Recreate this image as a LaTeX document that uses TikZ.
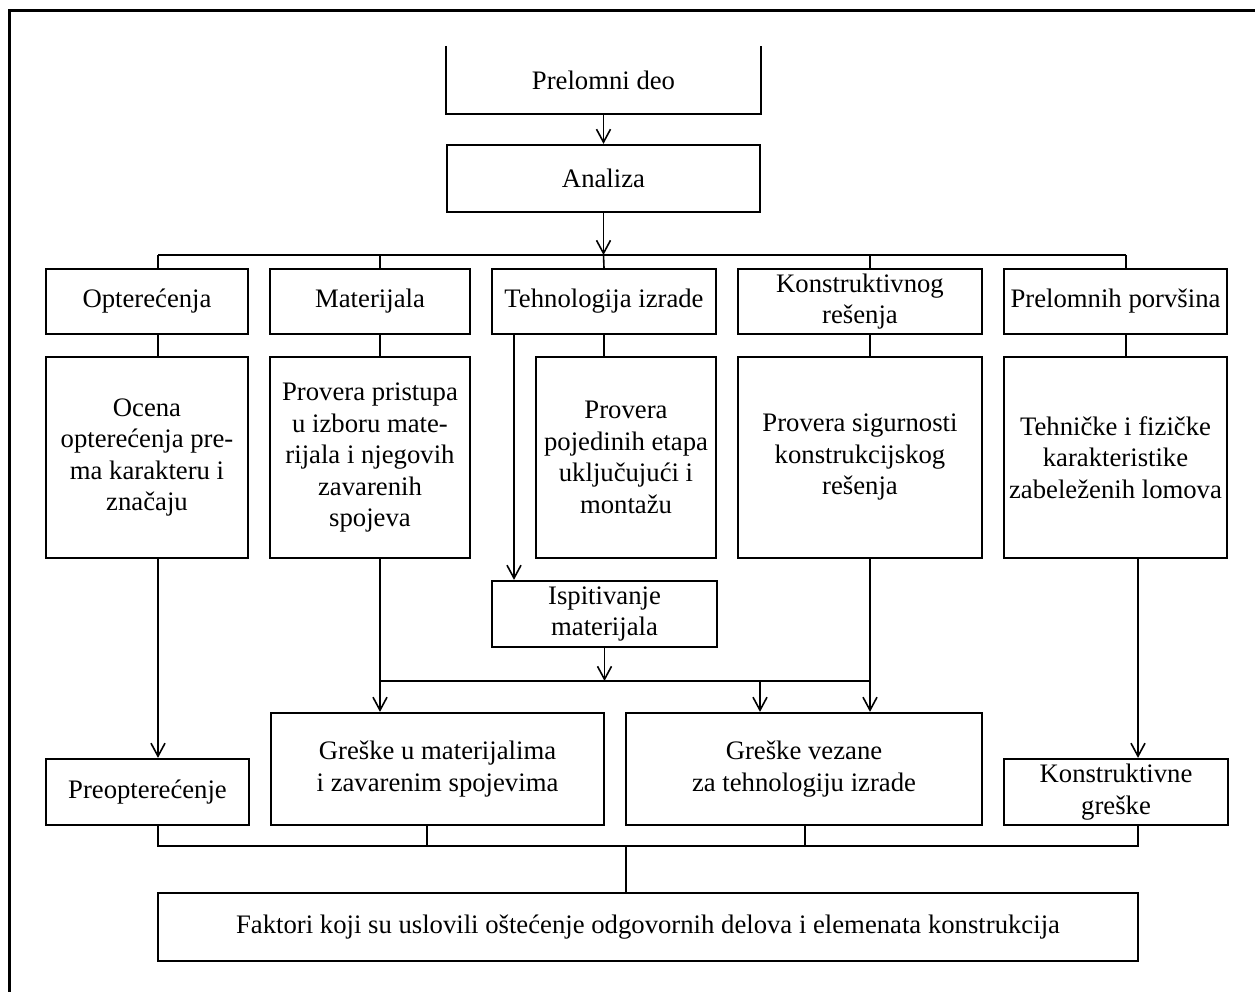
\documentclass[tikz,border=0pt]{standalone}
\usepackage{fontspec}
\setmainfont{Liberation Serif}
\usetikzlibrary{arrows.meta}
\begin{document}
\begin{tikzpicture}[x=1pt,y=-1pt,
  box/.style={draw, line width=2.2pt, align=center, inner sep=0pt,
    font=\fontsize{26.7}{31.5}\selectfont},
  link/.style={line width=1.6pt},
  arr/.style={link, -{Straight Barb[length=13pt,width=14pt]}}]
\useasboundingbox (0,0) rectangle (1255,992);

% outer frame (top and left edges)
\draw[line width=3pt] (9,992) -- (9,11) -- (1255,11);

% head
\node[box, draw=none, minimum width=313, minimum height=66] (prel) at (603.5,80) {Prelomni deo};
\draw[line width=2.2pt] (prel.north west) -- (prel.south west) -- (prel.south east) -- (prel.north east);
\node[box, minimum width=313, minimum height=67] (anal) at (603.5,178.5) {Analiza};

% first row
\node[box, minimum width=202, minimum height=65] (opt) at (147,301.5) {Opterećenja};
\node[box, minimum width=200, minimum height=65] (mat) at (370,301.5) {Materijala};
\node[box, minimum width=224, minimum height=65] (teh) at (604,301.5) {Tehnologija izrade};
\node[box, minimum width=244, minimum height=65] (kon) at (860,301.5) {Konstruktivnog\\rešenja};
\node[box, minimum width=223, minimum height=65] (pre) at (1115.5,301.5) {Prelomnih porvšina};

% second row
\node[box, minimum width=202, minimum height=201] (ocena) at (147,457.5) {Ocena\\opterećenja pre-\\ma karakteru i\\značaju};
\node[box, minimum width=200, minimum height=201] (provp) at (370,457.5) {Provera pristupa\\u izboru mate-\\rijala i njegovih\\zavarenih\\spojeva};
\node[box, minimum width=180, minimum height=201] (provpoj) at (626,457.5) {Provera\\pojedinih etapa\\uključujući i\\montažu};
\node[box, minimum width=244, minimum height=201] (provs) at (860,457.5) {Provera sigurnosti\\konstrukcijskog\\rešenja};
\node[box, minimum width=223, minimum height=201] (tehn) at (1115.5,457.5) {Tehničke i fizičke\\karakteristike\\zabeleženih lomova};

\node[box, minimum width=225, minimum height=66] (isp) at (604.5,614) {Ispitivanje\\materijala};

% third row
\node[box, minimum width=203, minimum height=66] (preop) at (147.5,792) {Preopterećenje};
\node[box, minimum width=333, minimum height=112] (gmat) at (437.5,769) {Greške u materijalima\\i zavarenim spojevima};
\node[box, minimum width=356, minimum height=112] (gvez) at (804,769) {Greške vezane\\za tehnologiju izrade};
\node[box, minimum width=224, minimum height=66] (kgr) at (1116,792) {Konstruktivne\\greške};

\node[box, minimum width=980, minimum height=68] (fakt) at (648,927) {Faktori koji su uslovili oštećenje odgovornih delova i elemenata konstrukcija};

% bus and column coordinates
\coordinate (c1) at (158,255);
\coordinate (c2) at (380,255);
\coordinate (c4) at (870,255);
\coordinate (c5) at (1126,255);
\coordinate (ct) at (514,255);
\coordinate (c6) at (760,681);
\coordinate (c7) at (1138,846);
\coordinate (b2L) at (380,681);
\coordinate (b2R) at (870,681);
\coordinate (b3L) at (158,846);
\coordinate (g1) at (427,846);
\coordinate (g2) at (805,846);
\coordinate (g3) at (626,846);

% connectors
\draw[arr] (prel.south) -- (anal.north);
\draw[arr] (anal.south) -- (anal.south |- c1);
\draw[link] (c1) -- (c5);
\draw[link] (c1) -- (c1 |- opt.north);
\draw[link] (c2) -- (c2 |- mat.north);
\draw[link] (anal.south |- c1) -- (teh.north);
\draw[link] (c4) -- (c4 |- kon.north);
\draw[link] (c5) -- (c5 |- pre.north);

\draw[link] (c1 |- opt.south) -- (c1 |- ocena.north);
\draw[link] (c2 |- mat.south) -- (c2 |- provp.north);
\draw[link] (teh.south) -- (teh.south |- provpoj.north);
\draw[link] (c4 |- kon.south) -- (c4 |- provs.north);
\draw[link] (c5 |- pre.south) -- (c5 |- tehn.north);

\draw[arr] (ct |- teh.south) -- (ct |- isp.north);
\draw[arr] (isp.south) -- (isp.south |- b2L);
\draw[link] (b2L) -- (b2R);
\draw[arr] (c2 |- provp.south) -- (c2 |- gmat.north);
\draw[arr] (c4 |- provs.south) -- (c4 |- gvez.north);
\draw[arr] (c6) -- (c6 |- gvez.north);
\draw[arr] (c1 |- ocena.south) -- (c1 |- preop.north);
\draw[arr] (c7 |- tehn.south) -- (c7 |- kgr.north);

\draw[link] (c1 |- preop.south) -- (b3L) -- (c7) -- (c7 |- kgr.south);
\draw[link] (g1 |- gmat.south) -- (g1);
\draw[link] (g2 |- gvez.south) -- (g2);
\draw[link] (g3) -- (g3 |- fakt.north);
\end{tikzpicture}
\end{document}
